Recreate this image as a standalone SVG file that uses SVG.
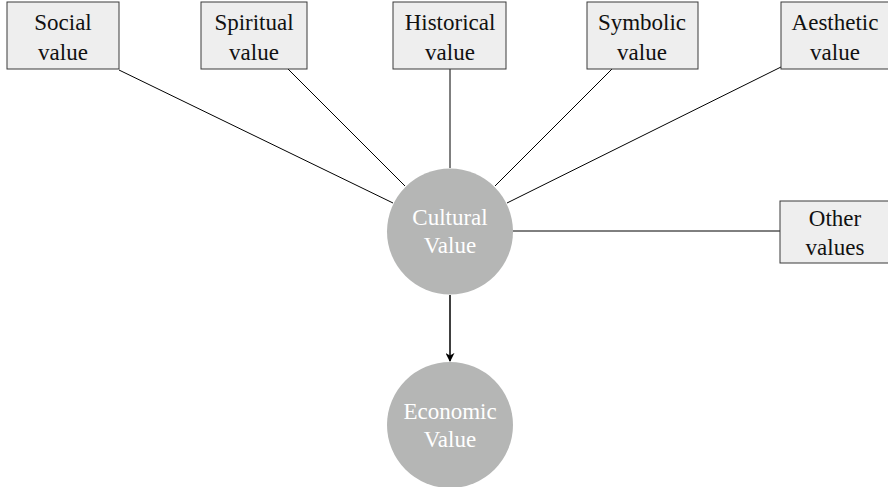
<svg xmlns="http://www.w3.org/2000/svg" width="888" height="487" viewBox="0 0 888 487">
<defs>
<style>
.box{fill:#eeeeee;stroke:#3a3a3a;stroke-width:1}
.bt{font-family:"Liberation Serif","DejaVu Serif",serif;font-size:23px;fill:#111;text-anchor:middle}
.circ{fill:#b5b6b5}
.ct{font-family:"Liberation Serif","DejaVu Serif",serif;font-size:23px;fill:#ffffff;text-anchor:middle}
.ln{stroke:#000;stroke-width:1;fill:none}
.ar{stroke:#000;stroke-width:1.5;fill:none}
</style>
<marker id="ah" viewBox="0 0 10 10" refX="9" refY="5" markerWidth="9" markerHeight="9" markerUnits="userSpaceOnUse" orient="auto">
<path d="M0,0 L10,5 L0,10 L3,5 Z" fill="#000"/>
</marker>
</defs>
<g id="connectors">
<line class="ln" x1="119" y1="70" x2="393" y2="203"/>
<line class="ln" x1="287" y1="68" x2="405" y2="186"/>
<line class="ln" x1="450" y1="69" x2="450" y2="168"/>
<line class="ln" x1="612" y1="69" x2="495" y2="186"/>
<line class="ln" x1="781" y1="67" x2="507" y2="203"/>
<line class="ln" x1="513" y1="231" x2="780" y2="231"/>
<line class="ar" x1="450" y1="295" x2="450" y2="361" marker-end="url(#ah)"/>
</g>
<g id="social"><rect class="box" x="7" y="2" width="112" height="67"/><text class="bt" x="63" y="30">Social</text><text class="bt" x="63" y="60">value</text></g>
<g id="spiritual"><rect class="box" x="201" y="2" width="106" height="67"/><text class="bt" x="254" y="30">Spiritual</text><text class="bt" x="254" y="60">value</text></g>
<g id="historical"><rect class="box" x="393" y="2" width="113" height="67"/><text class="bt" x="450" y="30">Historical</text><text class="bt" x="450" y="60">value</text></g>
<g id="symbolic"><rect class="box" x="587" y="2" width="111" height="67"/><text class="bt" x="642" y="30">Symbolic</text><text class="bt" x="642" y="60">value</text></g>
<g id="aesthetic"><rect class="box" x="781" y="2" width="110" height="67"/><text class="bt" x="835" y="30">Aesthetic</text><text class="bt" x="835" y="60">value</text></g>
<g id="other"><rect class="box" x="780" y="201" width="110" height="62"/><text class="bt" x="835" y="226">Other</text><text class="bt" x="835" y="255">values</text></g>
<g id="cultural"><circle class="circ" cx="450" cy="231.5" r="63"/><text class="ct" x="450" y="225">Cultural</text><text class="ct" x="450" y="253">Value</text></g>
<g id="economic"><circle class="circ" cx="450" cy="425" r="63"/><text class="ct" x="450" y="419">Economic</text><text class="ct" x="450" y="447">Value</text></g>
</svg>
